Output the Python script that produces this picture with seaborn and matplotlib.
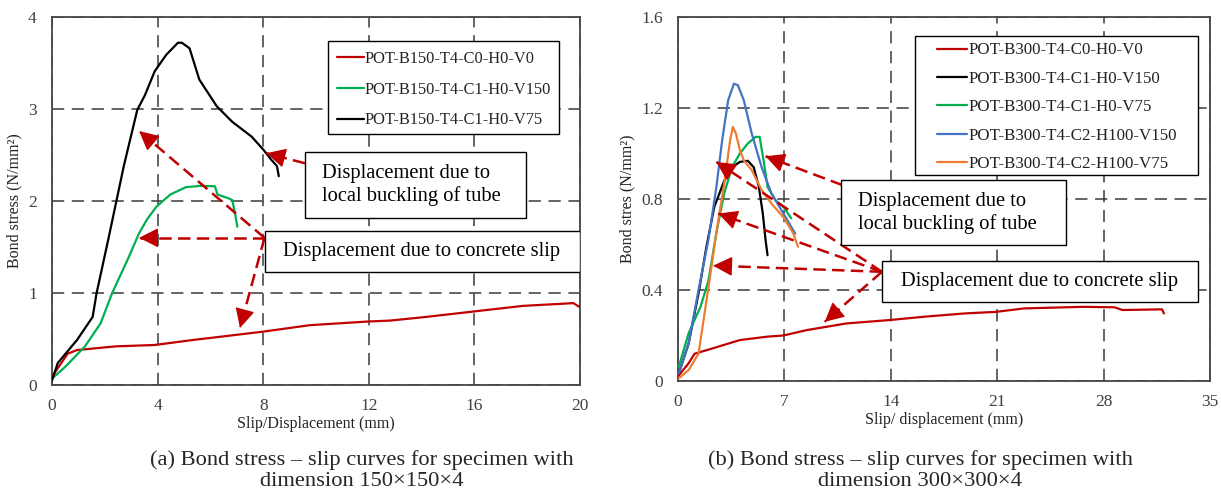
import matplotlib
matplotlib.use("Agg")
import matplotlib.pyplot as plt
import seaborn as sns
import pandas as pd
from matplotlib.patches import Rectangle
from matplotlib.ticker import FuncFormatter

# ---------------- data: panel (a) ----------------
a_v0_x = [0, 0.59, 0.95, 2.42, 3.89, 5.36, 6.83, 8.0, 9.76, 11.97, 12.8, 14.17, 16.0, 17.84, 19.75, 19.97]
a_v0_y = [0.09, 0.34, 0.38, 0.42, 0.435, 0.49, 0.54, 0.58, 0.65, 0.69, 0.70, 0.74, 0.80, 0.86, 0.89, 0.85]
a_v150_x = [0, 0.51, 1.25, 1.84, 2.28, 2.86, 3.30, 3.60, 3.96, 4.48, 5.07, 5.65, 6.17, 6.27, 6.68, 6.83, 6.93, 7.02]
a_v150_y = [0.07, 0.2, 0.42, 0.67, 1.0, 1.36, 1.65, 1.80, 1.94, 2.07, 2.15, 2.165, 2.16, 2.07, 2.03, 2.01, 1.87, 1.72]
a_v75_x = [0, 0.22, 0.95, 1.54, 1.69, 2.13, 2.72, 3.23, 3.52, 3.89, 4.33, 4.77, 4.92, 5.21, 5.58, 6.24, 6.83, 7.56, 8.0, 8.30, 8.52, 8.59]
a_v75_y = [0.05, 0.24, 0.49, 0.74, 1.0, 1.58, 2.38, 2.99, 3.15, 3.41, 3.59, 3.72, 3.72, 3.66, 3.32, 3.03, 2.86, 2.70, 2.56, 2.45, 2.38, 2.27]
a_labels = ["POT-B150-T4-C0-H0-V0", "POT-B150-T4-C1-H0-V150", "POT-B150-T4-C1-H0-V75"]
a_colors = ["#C00000", "#00B050", "#000000"]
a_xticks = [0, 4, 8, 12, 16, 20]
a_yticks = [0, 1, 2, 3, 4]

# ---------------- data: panel (b) ----------------
b_v0_x = [0, 0.7, 1.09, 2.26, 4.07, 5.89, 6.93, 8.49, 11.08, 13.93, 16.27, 18.86, 20.94, 22.76, 26.65, 28.72, 29.24, 31.84, 31.97]
b_v0_y = [0.02, 0.078, 0.12, 0.143, 0.18, 0.195, 0.20, 0.224, 0.253, 0.268, 0.283, 0.297, 0.304, 0.319, 0.326, 0.324, 0.312, 0.315, 0.297]
b_c1v150_x = [0.05, 0.70, 1.35, 1.87, 2.39, 3.04, 3.55, 4.07, 4.59, 4.98, 5.32, 5.58, 5.76, 5.89]
b_c1v150_y = [0.034, 0.165, 0.385, 0.59, 0.766, 0.88, 0.94, 0.963, 0.968, 0.94, 0.853, 0.736, 0.62, 0.553]
b_c1v75_x = [0.05, 0.70, 1.48, 2.0, 2.52, 3.04, 3.55, 4.07, 4.59, 5.11, 5.37, 5.63, 5.89, 6.41, 6.93, 7.45]
b_c1v75_y = [0.063, 0.21, 0.326, 0.44, 0.65, 0.824, 0.94, 1.0, 1.044, 1.073, 1.073, 0.97, 0.853, 0.795, 0.766, 0.715]
b_c2v150_x = [0.05, 0.70, 1.35, 2.0, 2.52, 2.91, 3.30, 3.68, 3.94, 4.33, 4.85, 5.50, 6.15, 6.67, 7.19, 7.71]
b_c2v150_y = [0.034, 0.165, 0.40, 0.62, 0.85, 1.06, 1.234, 1.307, 1.30, 1.234, 1.088, 0.94, 0.824, 0.766, 0.707, 0.648]
b_c2v75_x = [0.05, 0.70, 1.35, 2.0, 2.52, 3.04, 3.43, 3.61, 3.81, 4.07, 4.33, 4.85, 5.50, 6.15, 6.93, 7.58, 7.89]
b_c2v75_y = [0.012, 0.048, 0.12, 0.41, 0.65, 0.868, 1.058, 1.117, 1.088, 1.015, 0.97, 0.927, 0.84, 0.78, 0.72, 0.65, 0.59]
b_labels = ["POT-B300-T4-C0-H0-V0", "POT-B300-T4-C1-H0-V150", "POT-B300-T4-C1-H0-V75",
            "POT-B300-T4-C2-H100-V150", "POT-B300-T4-C2-H100-V75"]
b_colors = ["#C00000", "#000000", "#00B050", "#4472C4", "#ED7D31"]
b_xticks = [0, 7, 14, 21, 28, 35]
b_yticks = [0, 0.4, 0.8, 1.2, 1.6]


def make_df(xs, ys, labels):
    rows = []
    for x, y, lab in zip(xs, ys, labels):
        for i, (xi, yi) in enumerate(zip(x, y)):
            rows.append({"x": xi, "y": yi, "series": lab, "order": i})
    return pd.DataFrame(rows)


df_a = make_df([a_v0_x, a_v150_x, a_v75_x], [a_v0_y, a_v150_y, a_v75_y], a_labels)
df_b = make_df([b_v0_x, b_c1v150_x, b_c1v75_x, b_c2v150_x, b_c2v75_x],
               [b_v0_y, b_c1v150_y, b_c1v75_y, b_c2v150_y, b_c2v75_y], b_labels)

sns.set_theme(style="white")
plt.rcParams["font.family"] = ["Liberation Serif", "DejaVu Serif"]
plt.rcParams["axes.unicode_minus"] = False

W, H = 1221, 494
fig = plt.figure(figsize=(W / 100, H / 100), dpi=100)
ax1 = fig.add_axes([52 / W, (H - 385) / H, 528 / W, 368 / H])
ax2 = fig.add_axes([678 / W, (H - 381) / H, 532 / W, 364 / H])

RED = "#C00000"
GRAY = "#404040"


def style_axes(ax, xticks, yticks, fmt):
    ax.set_xlim(xticks[0], xticks[-1])
    ax.set_ylim(yticks[0], yticks[-1])
    ax.set_xticks(xticks)
    ax.set_yticks(yticks)
    ax.yaxis.set_major_formatter(FuncFormatter(fmt))
    ax.tick_params(axis="x", length=0, labelsize=12.5, pad=9, colors=GRAY)
    ax.tick_params(axis="y", length=0, labelsize=12.5, pad=11, colors=GRAY)
    ax.grid(True, color="#3a3a3a", linestyle=(0, (8, 5)), linewidth=1.1)
    for s in ax.spines.values():
        s.set_color("#444444")
        s.set_linewidth(1.3)
        s.set_visible(True)


def add_box(ax, x0, y0, x1, y1, text, tx, ty, ha):
    ax.add_patch(Rectangle((x0, y0), x1 - x0, y1 - y0, facecolor="white",
                           edgecolor="black", linewidth=1.0, zorder=6))
    ax.text(tx, ty, text, ha=ha, va="center", fontsize=14.8, zorder=7,
            linespacing=1.2, color="black")


def arrow(ax, tail, head):
    # dashed shaft
    ax.plot([tail[0], head[0]], [tail[1], head[1]], color=RED, lw=1.8,
            linestyle=(0, (5, 2.5)), zorder=5, solid_capstyle="butt")
    # solid arrow head
    near = (head[0] + (tail[0] - head[0]) * 0.02, head[1] + (tail[1] - head[1]) * 0.02)
    ax.annotate("", xy=head, xytext=near, xycoords="data", textcoords="data",
                arrowprops=dict(arrowstyle="-|>,head_length=0.75,head_width=0.38", color=RED,
                                lw=1.0, mutation_scale=16, shrinkA=0, shrinkB=0),
                zorder=5)


def legend_box(ax, x0, y0, x1, y1, anchor, fs, hl, ls):
    ax.add_patch(Rectangle((x0, y0), x1 - x0, y1 - y0, transform=ax.transAxes,
                           facecolor="white", edgecolor="black", linewidth=1.0, zorder=7))
    leg = ax.legend(loc="upper left", bbox_to_anchor=anchor, fontsize=fs,
                    frameon=False, handlelength=hl, handletextpad=0.05,
                    labelspacing=ls, borderpad=0, borderaxespad=0)
    for t in leg.get_texts():
        t.set_color("#222222")
    for l in leg.get_lines():
        l.set_linewidth(1.6)
    leg.set_zorder(8)


# ---------- panel (a) ----------
sns.lineplot(data=df_a, x="x", y="y", hue="series", palette=a_colors, hue_order=a_labels,
             sort=False, estimator=None, units="series", linewidth=1.6, ax=ax1, zorder=3)
style_axes(ax1, a_xticks, a_yticks, lambda v, p: f"{v:g}")
ax1.set_xlabel("Slip/Displacement (mm)", fontsize=11.5, labelpad=2, color="#222222")
ax1.set_ylabel("Bond stress (N/mm²)", fontsize=11.5, labelpad=4, color="#222222")
legend_box(ax1, 0.523, 0.682, 0.96, 0.936, (0.540, 0.908), 11.8, 1.65, 0.9)

add_box(ax1, 9.58, 1.815, 17.95, 2.53, "Displacement due to\nlocal buckling of tube", 10.21, 2.17, "left")
add_box(ax1, 8.05, 1.228, 20.0, 1.674, "Displacement due to concrete slip", 14.0, 1.45, "center")
arrow(ax1, (9.58, 2.41), (8.12, 2.52))
arrow(ax1, (8.05, 1.60), (3.30, 2.76))
arrow(ax1, (8.05, 1.60), (3.30, 1.60))
arrow(ax1, (8.05, 1.60), (7.12, 0.62))

# ---------- panel (b) ----------
sns.lineplot(data=df_b, x="x", y="y", hue="series", palette=b_colors, hue_order=b_labels,
             sort=False, estimator=None, units="series", linewidth=1.6, ax=ax2, zorder=3)
style_axes(ax2, b_xticks, b_yticks, lambda v, p: "0" if v == 0 else f"{v:.1f}")
ax2.set_xlabel("Slip/ displacement (mm)", fontsize=11.5, labelpad=2, color="#222222")
ax2.set_ylabel("Bond stres (N/mm²)", fontsize=11.5, labelpad=4, color="#222222")
legend_box(ax2, 0.445, 0.566, 0.977, 0.948, (0.487, 0.930), 12.2, 1.78, 0.73)

add_box(ax2, 10.72, 0.598, 25.53, 0.8835, "Displacement due to\nlocal buckling of tube", 11.87, 0.74, "left")
add_box(ax2, 13.42, 0.347, 34.21, 0.5275, "Displacement due to concrete slip", 23.8, 0.437, "center")
arrow(ax2, (10.82, 0.861), (5.76, 0.988))
arrow(ax2, (13.42, 0.48), (2.52, 0.963))
arrow(ax2, (13.42, 0.48), (2.65, 0.736))
arrow(ax2, (13.42, 0.48), (2.31, 0.507))
arrow(ax2, (13.42, 0.48), (9.65, 0.26))

# ---------- captions ----------
cap_fs = 16.2
fig.text(362 / W, 1 - 460 / H, "(a) Bond stress – slip curves for specimen with",
         ha="center", va="center", fontsize=cap_fs)
fig.text(362 / W, 1 - 481 / H, "dimension 150×150×4", ha="center", va="center", fontsize=cap_fs)
fig.text(920 / W, 1 - 460 / H, "(b) Bond stress – slip curves for specimen with",
         ha="center", va="center", fontsize=cap_fs)
fig.text(920 / W, 1 - 481 / H, "dimension 300×300×4", ha="center", va="center", fontsize=cap_fs)

fig.savefig("out.png", dpi=100)
